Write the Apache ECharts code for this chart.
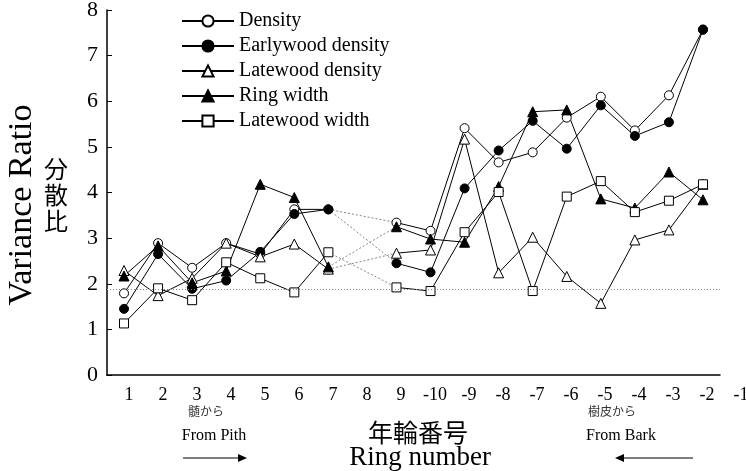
<!DOCTYPE html>
<html>
<head>
<meta charset="utf-8">
<script src="https://cdn.jsdelivr.net/npm/echarts@6/dist/echarts.min.js"></script>
<style>html,body{margin:0;padding:0;background:#fff;}#c{width:746px;height:471px;}</style>
</head>
<body>
<div id="c"></div>
<script>
// Data (ring 8 has no value: lines 7 -> 9 are drawn dotted)
const categories = ['1','2','3','4','5','6','7','8','9','-10','-9','-8','-7','-6','-5','-4','-3','-2'];
const labelCategories = ['1','2','3','4','5','6','7','8','9','-10','-9','-8','-7','-6','-5','-4','-3','-2','-1'];
const density        = [1.79, 2.89, 2.35, 2.89, 2.65, 3.63, 3.63, null, 3.34, 3.16, 5.41, 4.66, 4.88, 5.64, 6.10, 5.36, 6.13, 7.57];
const earlywood      = [1.45, 2.65, 1.89, 2.07, 2.70, 3.53, 3.63, null, 2.45, 2.25, 4.09, 4.92, 5.57, 4.96, 5.91, 5.24, 5.54, 7.57];
const latewoodDens   = [2.29, 1.74, 2.12, 2.89, 2.59, 2.87, 2.32, null, 2.67, 2.74, 5.17, 2.24, 3.02, 2.16, 1.57, 2.96, 3.18, 4.18];
const ringWidth      = [2.17, 2.83, 2.02, 2.28, 4.18, 3.89, 2.37, null, 3.25, 2.98, 2.91, 4.13, 5.77, 5.81, 3.86, 3.66, 4.45, 3.84];
const latewoodWidth  = [1.13, 1.90, 1.64, 2.47, 2.12, 1.81, 2.69, null, 1.92, 1.84, 3.13, 4.01, 1.84, 3.91, 4.25, 3.57, 3.82, 4.18];
const refLine = 1.88;
const yTicks = [0,1,2,3,4,5,6,7,8];

const serif = '"Liberation Serif","Times New Roman",serif';
const cjk = '"Noto Sans CJK JP","Noto Sans CJK SC",sans-serif';

const defs = [
  {name:'Density', data:density, symbol:'circle', fill:'#fff', size:9},
  {name:'Earlywood density', data:earlywood, symbol:'circle', fill:'#000', size:9},
  {name:'Latewood density', data:latewoodDens, symbol:'triangle', fill:'#fff', size:10},
  {name:'Ring width', data:ringWidth, symbol:'triangle', fill:'#000', size:10},
  {name:'Latewood width', data:latewoodWidth, symbol:'rect', fill:'#fff', size:9}
];

const series = [];
// dotted connectors between ring 7 and ring 9
defs.forEach(d => {
  series.push({
    type:'line', name:d.name + ' link', xAxisIndex:0, yAxisIndex:0,
    data: d.data.map((v,i) => (i===6 || i===8) ? v : null),
    connectNulls:true, symbol:'none', silent:true,
    lineStyle:{color:'#888', width:1, type:[2,2]}, z:1
  });
});
defs.forEach((d, k) => {
  const s = {
    type:'line', name:d.name, xAxisIndex:0, yAxisIndex:0,
    data:d.data, connectNulls:false,
    symbol:d.symbol, symbolSize:d.size, showAllSymbol:true,
    lineStyle:{color:'#000', width:1},
    itemStyle:{color:d.fill, borderColor:'#000', borderWidth:1},
    emphasis:{disabled:true}, z:3
  };
  if (k === 0) {
    s.markLine = {silent:true, symbol:'none', label:{show:false},
      lineStyle:{color:'#888', width:1, type:[1,2]},
      data:[{yAxis:refLine}]};
  }
  series.push(s);
});

const chart = echarts.init(document.getElementById('c'), null, {renderer:'canvas'});
chart.setOption({
  animation:false,
  backgroundColor:'#fff',
  grid:[
    {left:107, top:10, right:26, bottom:96, outerBoundsMode:'none', containLabel:false},
    {left:112, top:10, width:646, bottom:96, outerBoundsMode:'none', containLabel:false}
  ],
  xAxis:[
    {type:'category', gridIndex:0, data:categories, boundaryGap:true,
     axisLine:{lineStyle:{color:'#000', width:1.5}},
     axisTick:{inside:true, length:5, lineStyle:{color:'#000'}},
     axisLabel:{show:false}, splitLine:{show:false}},
    {type:'category', gridIndex:1, data:labelCategories, boundaryGap:true,
     axisLine:{show:false}, axisTick:{show:false},
     axisLabel:{show:true, margin:11, color:'#000', fontSize:18, fontFamily:serif, interval:0, hideOverlap:false},
     splitLine:{show:false}}
  ],
  yAxis:[
    {type:'value', gridIndex:0, min:yTicks[0], max:yTicks[yTicks.length-1], interval:1,
     axisLine:{show:true, lineStyle:{color:'#000', width:1.5}},
     axisTick:{show:true, inside:true, length:5, lineStyle:{color:'#000'}},
     axisLabel:{color:'#000', fontSize:22, fontFamily:serif, margin:9},
     splitLine:{show:false}},
    {type:'value', gridIndex:1, min:0, max:8, show:false}
  ],
  legend:{
    orient:'vertical', left:181, top:11, padding:0,
    itemWidth:52, itemHeight:14, itemGap:5,
    data:defs.map(d=>d.name),
    textStyle:{color:'#000', fontSize:20, fontFamily:serif, lineHeight:20},
    selectedMode:false
  },
  graphic:[
    {type:'text', x:22, y:205, rotation:Math.PI/2,
     style:{text:'Variance Ratio', font:'34px ' + serif, fill:'#000', textAlign:'center', textVerticalAlign:'middle'}},
    {type:'text', x:56, y:195,
     style:{text:'分\n散\n比', font:'24px ' + cjk, lineHeight:26, fill:'#000', textAlign:'center', textVerticalAlign:'middle'}},
    {type:'text', x:418, y:432,
     style:{text:'年輪番号', font:'25px ' + cjk, fill:'#000', textAlign:'center', textVerticalAlign:'middle'}},
    {type:'text', x:420, y:458,
     style:{text:'Ring number', font:'27px ' + serif, fill:'#000', textAlign:'center', textVerticalAlign:'middle'}},
    {type:'text', x:206, y:411,
     style:{text:'髄から', font:'12px ' + cjk, fill:'#333', textAlign:'center', textVerticalAlign:'middle'}},
    {type:'text', x:214, y:436,
     style:{text:'From Pith', font:'16px ' + serif, fill:'#000', textAlign:'center', textVerticalAlign:'middle'}},
    {type:'text', x:612, y:411,
     style:{text:'樹皮から', font:'12px ' + cjk, fill:'#333', textAlign:'center', textVerticalAlign:'middle'}},
    {type:'text', x:621, y:436,
     style:{text:'From Bark', font:'16px ' + serif, fill:'#000', textAlign:'center', textVerticalAlign:'middle'}},
    {type:'line', shape:{x1:183, y1:458, x2:240, y2:458}, style:{stroke:'#000', lineWidth:1.2}},
    {type:'polygon', shape:{points:[[238,454],[247,458],[238,462]]}, style:{fill:'#000'}},
    {type:'line', shape:{x1:622, y1:458, x2:693, y2:458}, style:{stroke:'#000', lineWidth:1.2}},
    {type:'polygon', shape:{points:[[624,454],[615,458],[624,462]]}, style:{fill:'#000'}}
  ],
  series:series
});
</script>
</body>
</html>
